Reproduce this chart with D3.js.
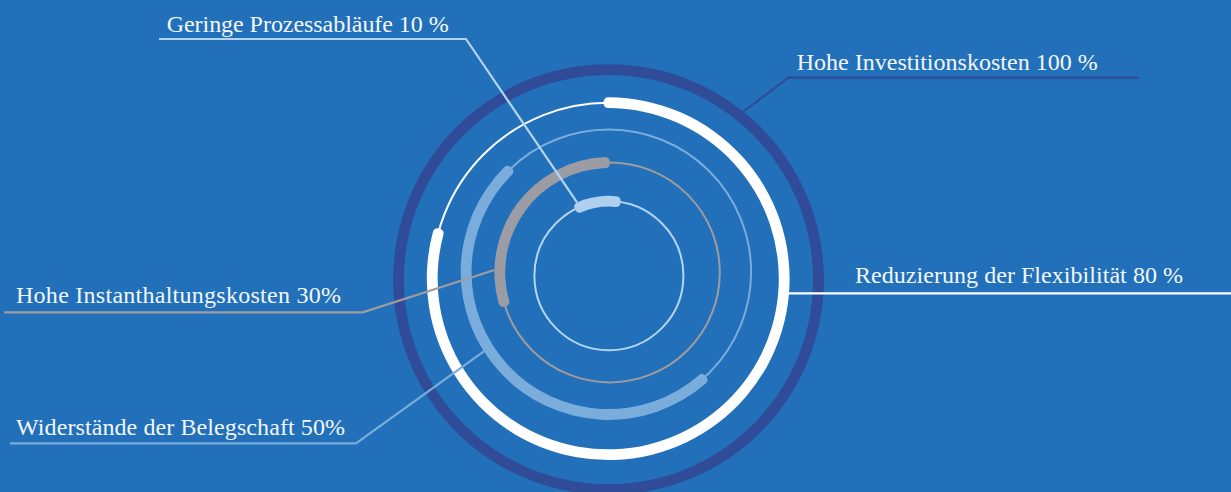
<!DOCTYPE html>
<html>
<head>
<meta charset="utf-8">
<script src="https://cdn.jsdelivr.net/npm/d3@7"></script>
<style>
  html, body { margin: 0; padding: 0; background: #2170b9; }
  svg { display: block; }
</style>
</head>
<body>
<svg id="chart" width="1231" height="492"></svg>
<script>
// ---- data ----
const labels = [
  "Hohe Investitionskosten 100 %",
  "Reduzierung der Flexibilität 80 %",
  "Widerstände der Belegschaft 50%",
  "Hohe Instanthaltungskosten 30%",
  "Geringe Prozessabläufe 10 %"
];
const values = [100, 80, 50, 30, 10];

// ---- layout / style ----
const ringColors  = ["#304c99", "#ffffff", "#7aaddc", "#9b9ca4", "#aed0ee"];
const trackColors = ["#304c99", "#ffffff", "#7aaddc", "#a09c9e", "#b3d5f0"];
const radii   = [210, 176, 142.5, 110, 74.5];
const centerX = [608.5, 608.2, 608.6, 609.8, 608.9];
const centerY = [279.6, 278.7, 272.0, 272.4, 275.7];
const startDeg = [0, -1.5, 137, -108, -27];      // where each bar begins
const anchorDeg = [38.8, 94.6, 237.5, 271.2, 336.5]; // where the leader touches the ring
const barWidth = 10.8;
const trackWidth = 2;

// label lines: [x start of horizontal, x end of horizontal, y of horizontal]
const lineStartX = [1139, 1231, 10, 4, 159];
const elbowX     = [788.3, null, 356, 362.7, 466];
const lineY      = [77.7, 293.3, 443.3, 312.3, 39];
const textX      = [796.7, 855, 16, 16, 166.7];
const textY      = [70, 283.3, 435, 303.3, 31.7];
const textW      = [301, 328, 329, 325, 282];

const svg = d3.select("#chart");
svg.append("rect").attr("width", 1231).attr("height", 492).attr("fill", "#2170b9");

const angle = d3.scaleLinear().domain([0, 100]).range([0, 2 * Math.PI]);
const rad = d => d * Math.PI / 180;

const g = svg.append("g");

values.forEach((v, i) => {
  const ring = g.append("g").attr("transform", `translate(${centerX[i]},${centerY[i]})`);
  // thin track
  ring.append("circle")
    .attr("r", radii[i])
    .attr("fill", "none")
    .attr("stroke", trackColors[i])
    .attr("stroke-width", trackWidth);
  // thick bar
  const s = rad(startDeg[i]);
  const arc = d3.arc()
    .innerRadius(radii[i] - barWidth / 2)
    .outerRadius(radii[i] + barWidth / 2)
    .cornerRadius(v >= 100 ? 0 : 4.5)
    .startAngle(s)
    .endAngle(s + angle(v));
  ring.append("path").attr("d", arc()).attr("fill", ringColors[i]);
});

// leader lines and labels
values.forEach((v, i) => {
  const a = rad(anchorDeg[i]);
  const r = radii[i] + barWidth / 2;
  const ax = centerX[i] + r * Math.sin(a);
  const ay = centerY[i] - r * Math.cos(a);
  let pts;
  if (elbowX[i] === null) {
    pts = [[lineStartX[i], lineY[i]], [ax, lineY[i]]];
  } else {
    pts = [[lineStartX[i], lineY[i]], [elbowX[i], lineY[i]], [ax, ay]];
  }
  svg.append("path")
    .attr("d", d3.line()(pts))
    .attr("fill", "none")
    .attr("stroke", trackColors[i])
    .attr("stroke-width", 2.2);
  svg.append("text")
    .attr("x", textX[i])
    .attr("y", textY[i])
    .attr("fill", "#f4f7fb")
    .attr("textLength", textW[i])
    .attr("lengthAdjust", "spacing")
    .style("font-family", "'Liberation Serif', 'DejaVu Serif', serif")
    .style("font-size", "24px")
    .text(labels[i]);
});
</script>
</body>
</html>
